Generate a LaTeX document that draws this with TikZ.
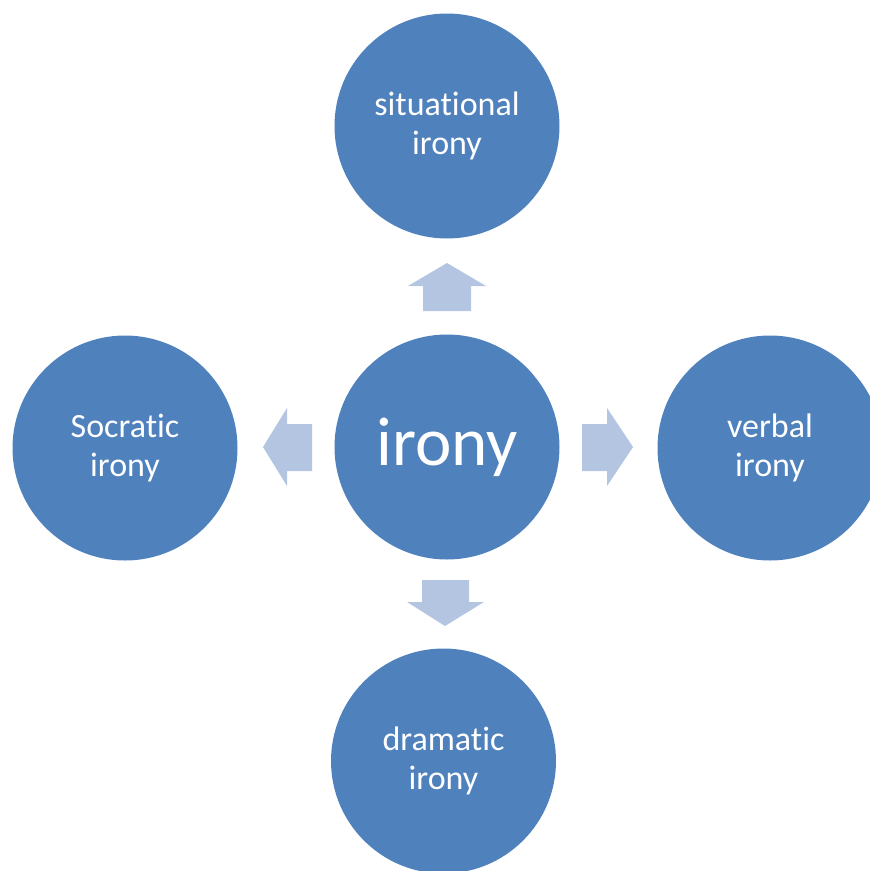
\documentclass[tikz,border=0pt]{standalone}
\usepackage{fontspec}
\setmainfont{Carlito}[Ligatures=NoCommon]
\definecolor{circblue}{HTML}{4F81BD}
\definecolor{arrblue}{HTML}{B4C5E2}
\begin{document}
\begin{tikzpicture}[x=1pt,y=-1pt,
  bubble/.style={circle,fill=circblue,draw=none,minimum size=225pt,inner sep=0pt,
    text=white,align=center,font=\fontsize{34}{39}\selectfont},
  blockarrow/.style={fill=arrblue,draw=none}]
\useasboundingbox (0,0) rectangle (870,871);
\clip (0,0) rectangle (870,871);
\node[bubble] (top) at (447,126) {situational\\irony};
\node[bubble,font=\fontsize{69}{80}\selectfont] (mid) at (447,447) {irony};
\node[bubble] (left) at (125,448) {Socratic\\irony};
\node[bubble] (right) at (770,448) {verbal\\irony};
\node[bubble] (bot) at (443.5,761) {dramatic\\irony};
\fill[blockarrow] (423,311)--(423,286)--(408,286)--(447,263)--(486,286)--(471,286)--(471,311)--cycle;
\fill[blockarrow] (582,424)--(607,424)--(607,408)--(633,447)--(607,486)--(607,471)--(582,471)--cycle;
\fill[blockarrow] (312,424)--(287,424)--(287,408)--(263,447)--(287,486)--(287,471)--(312,471)--cycle;
\fill[blockarrow] (422,580)--(469,580)--(469,602)--(484,602)--(445,626)--(407,602)--(422,602)--cycle;
\end{tikzpicture}
\end{document}
